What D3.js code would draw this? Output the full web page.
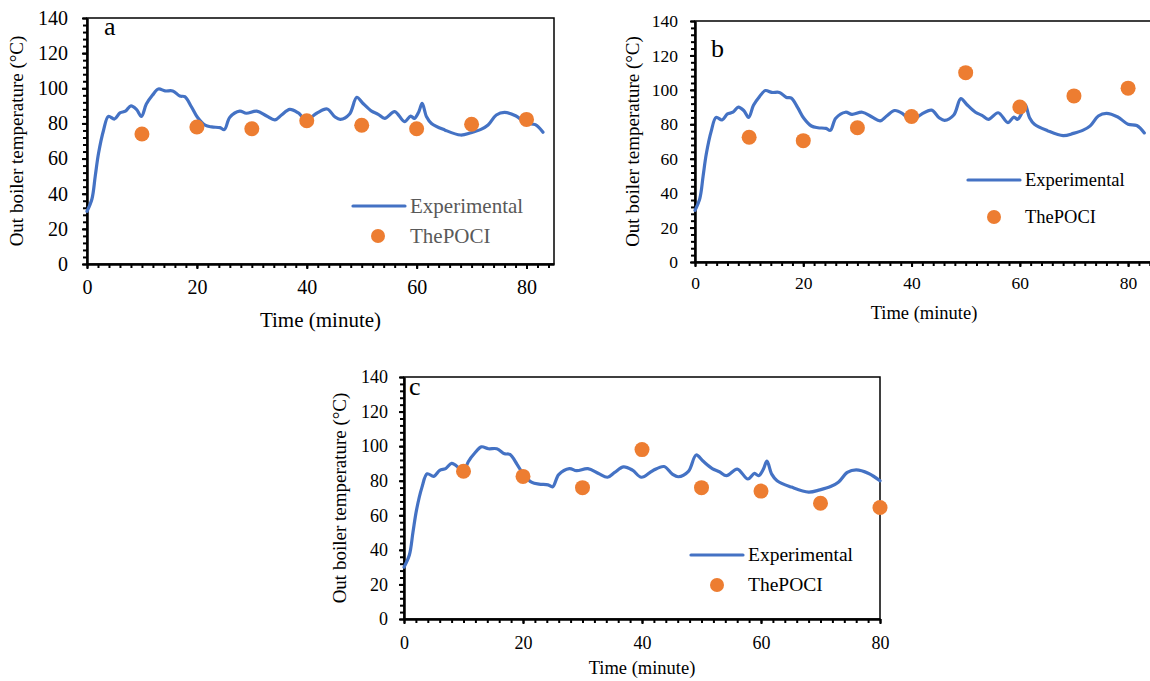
<!DOCTYPE html>
<html>
<head>
<meta charset="utf-8">
<script src="https://cdn.jsdelivr.net/npm/d3@7"></script>
<style>
  body { margin: 0; background: #fff; }
  svg text { font-family: "Liberation Serif", "Times New Roman", Times, serif; }
</style>
</head>
<body>
<script>
// experimental outlet temperature (minute, degC)
var expTime = [0, 0.9, 1.5, 2.1, 3, 3.9, 5, 6, 7, 8, 9, 9.9, 10.8, 11.9, 13, 14.2, 15.6, 16.9, 17.8, 19,
  20.1, 21.5, 22.7, 24.2, 25, 26, 27.8, 29, 30.9, 32.7, 34.2, 35.4, 36.9, 38.4, 39.9, 41.8, 43.7, 45.1,
  46.1, 47.8, 49.1, 50.2, 51.8, 53, 54.2, 56, 57.8, 58.9, 59.6, 60.4, 61, 61.8, 62.7, 65.1, 68, 69.9,
  71.7, 73, 74.5, 76, 78.1, 80, 81.6, 83];
var expTemp = [30, 37, 50, 63, 76, 84, 82.5, 86, 87, 90, 88, 84, 91, 96, 99.6, 98.5, 98.5, 95.6, 95.2, 89.5,
  83.5, 79, 78, 77.6, 76.5, 83.5, 87, 85.8, 87, 84.2, 82, 84.8, 88, 86.1, 82, 85.8, 88.2, 83.8,
  82.3, 85.4, 94.9, 91.5, 87, 85.2, 82.9, 86.7, 81, 84.2, 82.9, 86.7, 91.4, 83.8, 80, 76.3, 73.4, 74.7,
  76.6, 79.1, 84.8, 86.3, 84.2, 80, 79.3, 75];

// ThePOCI predictions
var pociTime = [10, 20, 30, 40, 50, 60, 70, 80];
var pociA = [74, 78, 77, 81.5, 79, 77, 79.5, 82.3];
var pociB = [72.5, 70.5, 78, 84.5, 110, 90, 96.5, 101];
var pociC = [85.5, 82.5, 76, 98, 76, 74, 67, 64.5];

var yTicks = [0, 20, 40, 60, 80, 100, 120, 140];
var xTicks = [0, 20, 40, 60, 80];

var lineColor = '#4472C4';
var dotColor = '#ED7D31';
var serif = '"Liberation Serif", "Times New Roman", Times, serif';

var svg = d3.select('body')
  .append('svg')
  .attr('width', 1150)
  .attr('height', 681);

function drawPanel(p) {
  var x = d3.scaleLinear().domain([0, p.xMax]).range([p.left, p.right]);
  var y = d3.scaleLinear().domain([0, 140]).range([p.bottom, p.top]);
  var g = svg.append('g');

  // thin frame (top + right)
  g.append('rect')
    .attr('x', p.left)
    .attr('y', p.top)
    .attr('width', p.right - p.left)
    .attr('height', p.bottom - p.top)
    .attr('fill', 'none')
    .attr('stroke', '#000')
    .attr('stroke-width', 1.5);

  // minor ticks
  var minorX = d3.range(0, p.xMax + 0.01, 2);
  var minorY = d3.range(0, 140.01, 4);
  g.append('g')
    .attr('transform', 'translate(0,' + p.bottom + ')')
    .call(d3.axisBottom(x).tickValues(minorX).tickFormat('').tickSize(4).tickSizeOuter(0))
    .call(function(a) { a.selectAll('line').attr('stroke-width', 2); a.select('.domain').remove(); });
  g.append('g')
    .attr('transform', 'translate(' + p.left + ',0)')
    .call(d3.axisLeft(y).tickValues(minorY).tickFormat('').tickSize(4).tickSizeOuter(0))
    .call(function(a) { a.selectAll('line').attr('stroke-width', 2); a.select('.domain').remove(); });

  // major axes
  var xAxis = g.append('g')
    .attr('transform', 'translate(0,' + p.bottom + ')')
    .call(d3.axisBottom(x).tickValues(xTicks).tickSize(5).tickSizeOuter(0).tickPadding(p.xPad));
  var yAxis = g.append('g')
    .attr('transform', 'translate(' + p.left + ',0)')
    .call(d3.axisLeft(y).tickValues(yTicks).tickSize(5).tickSizeOuter(0).tickPadding(p.yPad));
  [xAxis, yAxis].forEach(function(a) {
    a.attr('font-family', serif);
    a.select('.domain').attr('stroke-width', 2.5);
    a.selectAll('line').attr('stroke-width', 2);
    a.selectAll('text')
      .attr('font-size', p.tickSize + 'px')
      .attr('fill', '#000');
  });

  // experimental curve
  var pts = expTime.map(function(t, i) { return [t, expTemp[i]]; })
    .filter(function(d) { return d[0] <= p.xMax; });
  var line = d3.line()
    .x(function(d) { return x(d[0]); })
    .y(function(d) { return y(d[1]); })
    .curve(d3.curveCatmullRom);
  g.append('path')
    .datum(pts)
    .attr('d', line)
    .attr('fill', 'none')
    .attr('stroke', lineColor)
    .attr('stroke-width', 3.2)
    .attr('stroke-linejoin', 'round')
    .attr('stroke-linecap', 'round');

  // predicted points
  g.selectAll('circle.poci')
    .data(p.poci)
    .enter()
    .append('circle')
    .attr('class', 'poci')
    .attr('cx', function(d, i) { return x(pociTime[i]); })
    .attr('cy', function(d) { return y(d); })
    .attr('r', 7.5)
    .attr('fill', dotColor);

  // panel letter
  g.append('text')
    .attr('x', p.letterX)
    .attr('y', p.letterY)
    .attr('font-size', '26px')
    .text(p.letter);

  // axis titles
  g.append('text')
    .attr('transform', 'translate(' + p.yTitleX + ',' + ((p.top + p.bottom) / 2) + ') rotate(-90)')
    .attr('text-anchor', 'middle')
    .attr('font-size', '19px')
    .text('Out boiler temperature (°C)');
  g.append('text')
    .attr('x', (p.left + p.right) / 2)
    .attr('y', p.xTitleY)
    .attr('text-anchor', 'middle')
    .attr('font-size', p.xTitleSize + 'px')
    .text('Time (minute)');

  // legend
  g.append('line')
    .attr('x1', p.legX1)
    .attr('x2', p.legX2)
    .attr('y1', p.legY)
    .attr('y2', p.legY)
    .attr('stroke', lineColor)
    .attr('stroke-width', 3.2)
    .attr('stroke-linecap', 'round');
  g.append('circle')
    .attr('cx', p.dotX)
    .attr('cy', p.dotY)
    .attr('r', 7)
    .attr('fill', dotColor);
  g.append('text')
    .attr('x', p.textX)
    .attr('y', p.legY + p.legSize * 0.33)
    .attr('font-size', p.legSize + 'px')
    .attr('fill', p.legColor)
    .text('Experimental');
  g.append('text')
    .attr('x', p.textX)
    .attr('y', p.dotY + p.legSize * 0.33)
    .attr('font-size', p.legSize + 'px')
    .attr('fill', p.legColor)
    .text('ThePOCI');
}

drawPanel({
  left: 87, right: 554, top: 18, bottom: 264, xMax: 85,
  poci: pociA, letter: 'a', letterX: 104, letterY: 35,
  tickSize: 20, xPad: 11, yPad: 14,
  yTitleX: 23, xTitleY: 327, xTitleSize: 21,
  legX1: 353, legX2: 405, legY: 206, dotX: 378, dotY: 236, textX: 410,
  legSize: 21, legColor: '#595959'
});

drawPanel({
  left: 695, right: 1153, top: 21, bottom: 262, xMax: 84.6,
  poci: pociB, letter: 'b', letterX: 711, letterY: 57,
  tickSize: 17.5, xPad: 10, yPad: 12,
  yTitleX: 639, xTitleY: 319, xTitleSize: 18.5,
  legX1: 968, legX2: 1020, legY: 180, dotX: 994, dotY: 217, textX: 1025,
  legSize: 18.5, legColor: '#000'
});

drawPanel({
  left: 404, right: 880, top: 377, bottom: 619, xMax: 80,
  poci: pociC, letter: 'c', letterX: 409, letterY: 395,
  tickSize: 18, xPad: 12, yPad: 11,
  yTitleX: 346, xTitleY: 674, xTitleSize: 18.5,
  legX1: 691, legX2: 743, legY: 555, dotX: 717, dotY: 585, textX: 748,
  legSize: 19.5, legColor: '#000'
});

svg.selectAll('text').style('font-family', serif);
</script>
</body>
</html>
